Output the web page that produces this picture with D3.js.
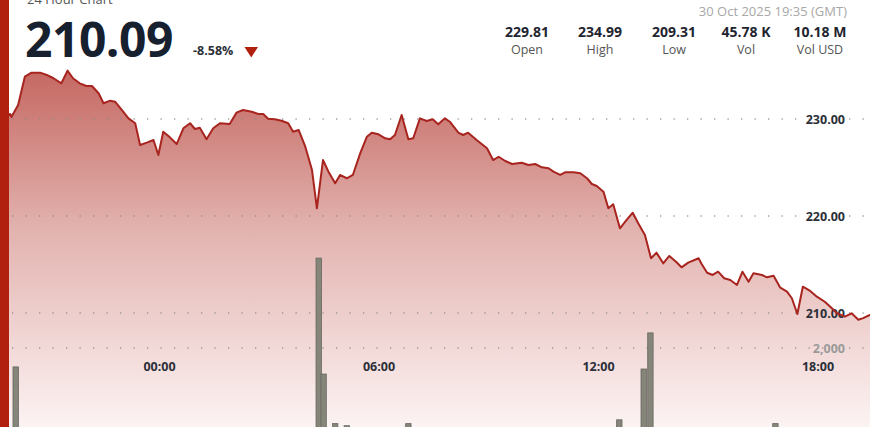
<!DOCTYPE html>
<html>
<head>
<meta charset="utf-8">
<script src="https://cdn.jsdelivr.net/npm/d3@7"></script>
<style>
  html, body { margin: 0; padding: 0; background: #fff; }
  svg { display: block; font-family: "Open Sans", "Noto Sans", sans-serif; }
</style>
</head>
<body>
<svg id="chart" width="870" height="427"></svg>
<script>
// ---------- DATA ----------
const startTime = "2025-10-29T19:35:00Z";           // chart window start (24 h)
const priceMinutes = [0,21,23,34,45,56,70,81,92,105,115,124,135,146,155,166,174,185,193,204,215,226,234,245,256,264,272,283,294,305,316,324,332,343,354,365,381,392,403,417,428,436,444,455,466,477,485,494,505,516,524,534,543,554,562,573,583,595,606,614,625,636,644,652,663,674,682,693,704,714,723,734,742,756,764,772,786,803,813,822,833,844,860,871,882,893,904,912,923,931,945,956,967,975,983,994,1002,1010,1021,1032,1042,1051,1062,1072,1081,1092,1102,1113,1122,1133,1150,1155,1164,1173,1182,1192,1202,1213,1222,1232,1240,1254,1262,1273,1284,1295,1303,1312,1321,1333,1344,1357,1366,1377,1390,1401,1412,1420,1440];
const priceValues = [229.81,230.52,230.21,231.44,234.36,234.78,234.78,234.54,234.20,233.68,234.99,234.20,233.68,233.40,233.40,232.65,231.62,231.89,231.78,230.93,230.07,229.56,227.32,227.56,227.84,226.29,228.69,228.11,227.42,229.04,229.56,228.97,229.10,227.91,229.04,229.56,229.48,230.65,230.93,230.75,230.52,230.52,230.03,229.97,229.82,229.56,228.69,228.87,227.14,224.74,220.79,225.77,224.57,223.37,224.23,223.89,224.23,226.46,228.18,228.59,228.42,228.01,227.91,228.35,230.41,227.91,228.01,230.07,229.79,229.97,229.45,230.07,229.72,228.59,228.35,228.59,227.84,226.98,225.77,226.11,225.67,225.36,225.49,225.26,225.36,225.02,224.92,224.57,224.23,224.51,224.51,224.40,223.89,223.30,223.09,222.51,220.79,221.21,218.73,219.59,220.34,219.25,218.04,215.64,216.22,215.12,215.88,215.29,214.71,215.19,215.64,215.05,214.15,213.92,214.26,213.58,213.40,212.89,214.26,213.23,214.09,213.92,213.68,213.85,212.61,212.20,211.52,209.90,212.71,212.27,211.68,211.16,210.65,209.97,209.62,209.97,209.31,209.47,210.09];
const volMinutes = [30,527,535,554,573,674,1020,1060,1071,1276];
const volValues  = [1550,4140,1380,200,150,200,290,1500,2360,200];
const priceTicks = [210, 220, 230];
const volTicks = [2000];
const timeTicks = ["2025-10-30T00:00:00Z","2025-10-30T06:00:00Z","2025-10-30T12:00:00Z","2025-10-30T18:00:00Z"];

const headerTitle = "24 Hour Chart";
const lastPrice = "210.09";
const changePct = "-8.58%";
const stampText = "30 Oct 2025 19:35 (GMT)";
const statValues = ["229.81","234.99","209.31","45.78 K","10.18 M"];
const statLabels = ["Open","High","Low","Vol","Vol USD"];

// ---------- SCALES ----------
const t0 = new Date(startTime);
const toDate = m => new Date(t0.getTime() + m * 60000);
const x = d3.scaleUtc().domain([t0, toDate(1440)]).range([-2.6, 875.4]);
const y = d3.scaleLinear().domain([210, 230]).range([313, 119]);
const yv = d3.scaleLinear().domain([0, 2000]).range([432, 348]);

const prices = priceMinutes.map((m, i) => ({ t: toDate(m), v: priceValues[i] }));
const vols = volMinutes.map((m, i) => ({ t: toDate(m), v: volValues[i] }));

const svg = d3.select("#chart");
const defs = svg.append("defs");
const grad = defs.append("linearGradient").attr("id", "areaGrad")
  .attr("gradientUnits", "userSpaceOnUse").attr("x1", 0).attr("x2", 0).attr("y1", 65).attr("y2", 427);
grad.append("stop").attr("offset", 0).attr("stop-color", "#c4655f");
grad.append("stop").attr("offset", 0.45).attr("stop-color", "#e2b2ae");
grad.append("stop").attr("offset", 1).attr("stop-color", "#fcf3f3");

// area
svg.append("path").datum(prices)
  .attr("fill", "url(#areaGrad)")
  .attr("d", d3.area().x(d => x(d.t)).y0(427).y1(d => y(d.v)));

// grid (dotted)
const gridX0 = 12, gridX1 = 870;
svg.append("g").selectAll("line").data(priceTicks).join("line")
  .attr("x1", gridX0).attr("x2", gridX1)
  .attr("y1", d => y(d)).attr("y2", d => y(d))
  .attr("stroke", "#8a8a8a").attr("stroke-width", 1.3).attr("stroke-dasharray", "1.3 12.2").attr("opacity", 0.8);
svg.append("g").selectAll("line").data(volTicks).join("line")
  .attr("x1", gridX0).attr("x2", gridX1)
  .attr("y1", d => yv(d)).attr("y2", d => yv(d))
  .attr("stroke", "#8a8a8a").attr("stroke-width", 1.3).attr("stroke-dasharray", "1.3 12.2").attr("opacity", 0.8);

// volume bars
const barW = x(toDate(10)) - x(toDate(0)) - 0.7;
svg.append("g").selectAll("rect").data(vols).join("rect")
  .attr("x", d => x(d.t) - barW / 2)
  .attr("width", barW)
  .attr("y", d => yv(d.v))
  .attr("height", d => yv(0) - yv(d.v))
  .attr("fill", "#85857a").attr("stroke", "#66665e").attr("stroke-width", 0.8);

// price axis labels (right)
const yAxis = d3.axisLeft(y).tickValues(priceTicks).tickSize(0).tickFormat(d3.format(".2f"));
const gy = svg.append("g").attr("transform", "translate(845,0)").call(yAxis);
gy.select(".domain").remove();
gy.selectAll("text").attr("x", 0).attr("dy", "0.35em")
  .attr("fill", "#2b2f38").attr("font-size", 12.5).attr("font-weight", 700)
  .attr("font-family", "'Open Sans', sans-serif");

const vAxis = d3.axisLeft(yv).tickValues(volTicks).tickSize(0).tickFormat(d3.format(","));
const gv = svg.append("g").attr("transform", "translate(845,0)").call(vAxis);
gv.select(".domain").remove();
gv.selectAll("text").attr("x", 0).attr("dy", "0.35em")
  .attr("fill", "#9a9a9a").attr("font-size", 12.5).attr("font-weight", 700)
  .attr("font-family", "'Open Sans', sans-serif");

// price line
svg.append("path").datum(prices)
  .attr("fill", "none").attr("stroke", "#a8241f").attr("stroke-width", 2)
  .attr("stroke-linejoin", "round")
  .attr("d", d3.line().x(d => x(d.t)).y(d => y(d.v)));

// time axis
const xAxis = d3.axisBottom(x).tickValues(timeTicks.map(s => new Date(s)))
  .tickSize(0).tickFormat(d3.utcFormat("%H:%M"));
const gx = svg.append("g").attr("transform", "translate(0,357)").call(xAxis);
gx.select(".domain").remove();
gx.selectAll("text").attr("dy", "0.9em")
  .attr("fill", "#2b2f38").attr("font-size", 12.5).attr("font-weight", 700)
  .attr("font-family", "'Open Sans', sans-serif");

// left red bar
svg.append("rect").attr("x", 0).attr("y", 0).attr("width", 9).attr("height", 427).attr("fill", "#b1200f");

// header
svg.append("text").attr("x", 27).attr("y", 4).attr("font-size", 13).attr("fill", "#555").text(headerTitle);
svg.append("text").attr("x", 25).attr("y", 57).attr("font-size", 48).attr("font-weight", 700)
  .attr("fill", "#17202e").attr("letter-spacing", "-0.5").text(lastPrice);
svg.append("text").attr("x", 193).attr("y", 55).attr("font-size", 12.5).attr("font-weight", 700)
  .attr("fill", "#2b2f38").text(changePct);
svg.append("path").attr("d", "M244.5,47 L258,47 L251.25,57.5 Z").attr("fill", "#b1200f");

svg.append("text").attr("x", 847).attr("y", 16).attr("text-anchor", "end")
  .attr("font-size", 13).attr("fill", "#a8a8a8").text(stampText);
const statX = [527, 600, 674, 746, 820];
statValues.forEach((v, i) => {
  svg.append("text").attr("x", statX[i]).attr("y", 37).attr("text-anchor", "middle")
    .attr("font-size", 14).attr("font-weight", 700).attr("fill", "#1f2530").text(v);
  svg.append("text").attr("x", statX[i]).attr("y", 54).attr("text-anchor", "middle")
    .attr("font-size", 12.5).attr("fill", "#555").text(statLabels[i]);
});
</script>
</body>
</html>
